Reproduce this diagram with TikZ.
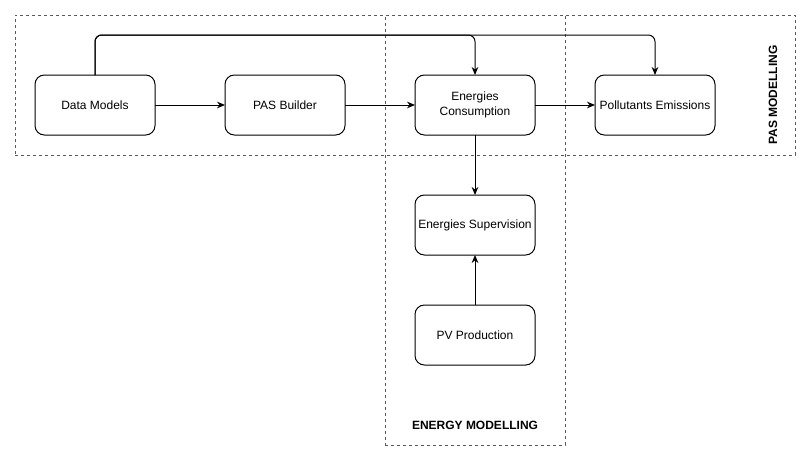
\documentclass[tikz,border=0pt]{standalone}
\usepackage{fontspec}
\setmainfont{Liberation Sans}
\usetikzlibrary{positioning,arrows.meta}
\begin{document}
\begin{tikzpicture}[x=0.75pt, y=-0.75pt, node distance=45pt and 52.5pt,
    font=\fontsize{9pt}{11pt}\selectfont,
    block/.style={shape=rectangle, draw, color=black, rounded corners=7pt, line width=0.75pt, minimum height=45pt, minimum width=90pt, inner sep=1pt, outer sep=0pt, align=center},
    area/.style={shape=rectangle, draw=black!65, line width=0.6pt, dash pattern=on 2.25pt off 2.25pt},
    link/.style={-{Stealth[length=6pt, width=5pt]}, line width=0.75pt}]
    \useasboundingbox (0,0) rectangle (811,461);
    % dashed areas
    \node[area, minimum width=585pt, minimum height=105pt] (pasarea) at (405,85) {};
    \node[area, minimum width=135pt, minimum height=322.5pt] (energyarea) at (475,230) {};
    \node[font=\fontsize{9pt}{11pt}\selectfont\bfseries, rotate=90] (paslabel) at (773,95) {PAS MODELLING};
    \node[font=\fontsize{9pt}{11pt}\selectfont\bfseries] (energylabel) at (475,425) {ENERGY MODELLING};
    % blocks
    \node[block] (datamodels) at (95,105) {Data Models};
    \node[block] (pasbuilder) [right=of datamodels] {PAS Builder};
    \node[block] (energcons) [right=of pasbuilder] {Energies\\Consumption};
    \node[block] (pollutants) [right=45pt of energcons] {Pollutants Emissions};
    \node[block] (energsup) [below=of energcons] {Energies Supervision};
    \node[block] (pvprod) [below=37.5pt of energsup] {PV Production};
    \coordinate (toprail) at (95,35);
    % connectors
    \draw[link] (datamodels) to (pasbuilder);
    \draw[link] (pasbuilder) to (energcons);
    \draw[link] (energcons) to (pollutants);
    \draw[link] (energcons) to (energsup);
    \draw[link] (pvprod) to (energsup);
    \draw[link, rounded corners=5pt] (datamodels.north) |- (toprail -| energcons.north) -- (energcons.north);
    \draw[link, rounded corners=5pt] (datamodels.north) |- (toprail -| pollutants.north) -- (pollutants.north);
\end{tikzpicture}
\end{document}
